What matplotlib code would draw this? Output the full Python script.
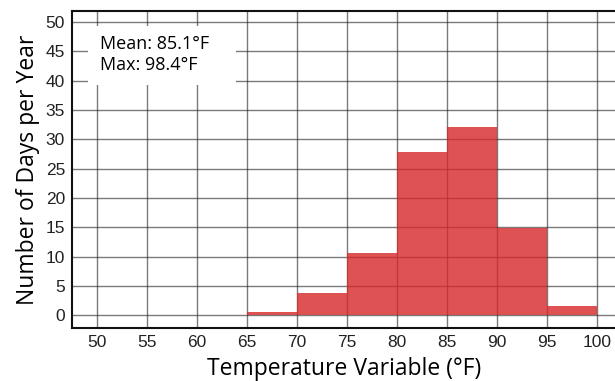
import matplotlib as mpl
mpl.use('Agg')
import matplotlib.pyplot as plt
from matplotlib.patches import Rectangle

# histogram bins (lower edges, degF) and days per year
bin_left = [65, 70, 75, 80, 85, 90, 95]
bin_width = 5
days = [0.6, 3.75, 10.6, 27.8, 32.1, 14.9, 1.6]

x_ticks = list(range(50, 101, 5))
y_ticks = list(range(0, 51, 5))
stats_text = "Mean: 85.1°F\nMax: 98.4°F"

fig = plt.figure(figsize=(6.15, 3.81), dpi=100)
ax = fig.add_axes([72/615, 53/381, 545/615, 317/381])

ax.bar(bin_left, days, width=bin_width, align='edge',
       color='tab:red', alpha=0.8, edgecolor='none', zorder=3)

ax.set_xlim(47.5, 102)
ax.set_ylim(-2.2, 51.9)
ax.set_xticks(x_ticks)
ax.set_yticks(y_ticks)
ax.grid(True, color='#222222', linewidth=1.0, alpha=0.6, zorder=1)
ax.set_axisbelow(True)
ax.tick_params(length=0, pad=5, labelsize=12.5, labelcolor='#222222',
               labelfontfamily='Liberation Sans')

for side in ['left', 'bottom', 'top']:
    ax.spines[side].set_color('#111111')
    ax.spines[side].set_linewidth(1.5)
ax.spines['right'].set_visible(False)

ax.set_xlabel("Temperature Variable (°F)", family='Open Sans', fontsize=16.5, labelpad=5)
ax.set_ylabel("Number of Days per Year", family='Open Sans', fontsize=16.5, labelpad=4)

# white box behind the stats text
ax.add_patch(Rectangle((0.029, 0.767), 0.272, 0.186, transform=ax.transAxes,
                       facecolor='white', edgecolor='none', zorder=4))
ax.text(0.051, 0.862, stats_text, transform=ax.transAxes, family='Open Sans',
        fontsize=13, va='center', ha='left', linespacing=1.25, zorder=5)

fig.savefig('out.png', dpi=100)
